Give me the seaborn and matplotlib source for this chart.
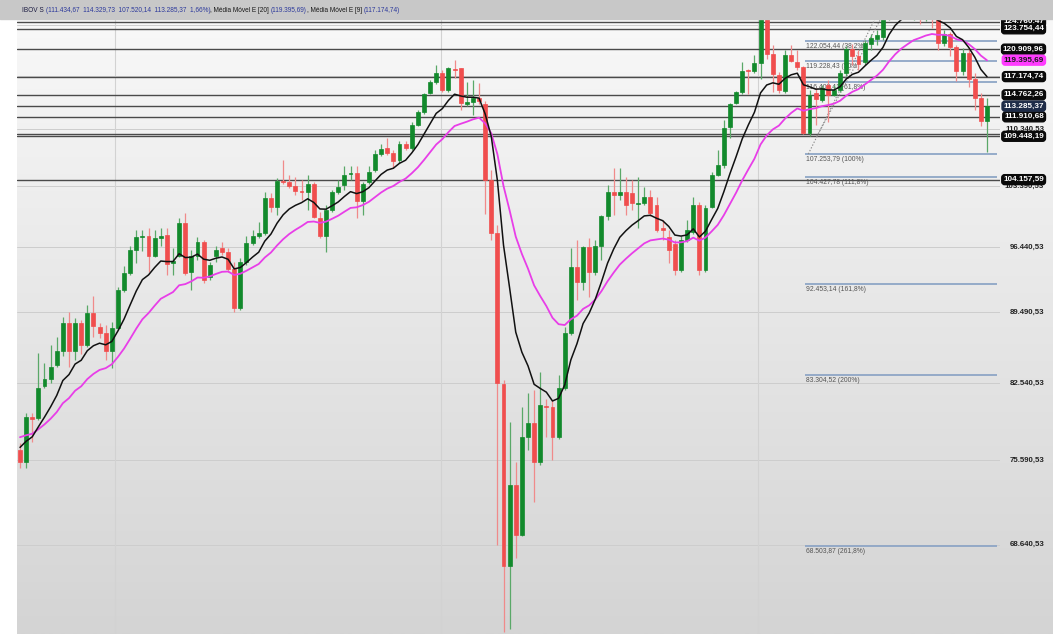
import matplotlib
matplotlib.use("Agg")
import numpy as np
import matplotlib.pyplot as plt
import matplotlib.transforms as mtransforms
from matplotlib.colors import LinearSegmentedColormap
import seaborn as sns

# ---------------- data (weekly IBOV candles) ----------------
opens = [76500, 75400, 79400, 79300, 82300, 82900, 84300, 85600, 88400, 85600,
         88400, 86200, 89400, 88000, 87400, 85600, 87900, 91800, 93600, 96100,
         97500, 97700, 95400, 97400, 97800, 94700, 95500, 99100, 93700, 95400,
         97000, 93200, 95400, 96300, 95900, 94100, 89900, 94800, 96900, 97700,
         98000, 102000, 101000, 104000, 103900, 103400, 102800, 102700, 103700, 99700,
         97700, 100600, 102700, 103500, 104800, 105000, 101600, 103900, 105300, 107200,
         108000, 107400, 106500, 108500, 108000, 110900, 112500, 115000, 116400, 117600,
         115400, 118200, 118300, 113600, 113800, 114400, 113600, 104100, 98000, 82500,
         67000, 73500, 69400, 77600, 78900, 75400, 80400, 80300, 77600, 82100,
         87400, 94300, 92700, 96400, 93700, 96600, 99900, 102700, 102400, 102700,
         102600, 101300, 101400, 102100, 101200, 98600, 97500, 96800, 93900, 97200,
         98100, 101200, 93900, 100900, 104700, 105900, 110600, 113700, 115100, 118100,
         117900, 119000, 125100, 120200, 117400, 115200, 120100, 119200, 118500, 109900,
         115000, 114100, 116000, 114800, 115400, 117600, 120900, 120000, 119100, 121600,
         122300, 122600, 125600, 130100, 129400, 128400, 127300, 127600, 125400, 126000,
         125100, 121800, 123000, 121200, 117900, 120400, 116900, 114300, 111434.67]
highs = [77100, 79800, 79800, 85400, 84500, 86200, 87000, 89000, 89500, 88900,
         88700, 90300, 91200, 88400, 88200, 88500, 92100, 94400, 96500, 98300,
         98300, 98600, 98300, 98600, 98600, 96300, 99700, 100300, 96100, 97500,
         97200, 94800, 96600, 97000, 96300, 94800, 95200, 97700, 98300, 99200,
         102700, 102600, 104400, 106500, 104700, 104500, 104100, 104700, 103900, 100400,
         101200, 102900, 104100, 105800, 105800, 105800, 103900, 105800, 107800, 108500,
         109200, 107700, 108800, 108900, 111200, 112800, 115000, 116700, 118700, 118100,
         118500, 119400, 118400, 116500, 116700, 116300, 113900, 105300, 98900, 82800,
         79000, 75400, 80300, 81600, 81900, 83600, 81100, 81000, 83300, 88000,
         96300, 97200, 96600, 97400, 97200, 100000, 103500, 105500, 105500, 104500,
         104100, 104500, 103300, 102900, 102100, 99500, 98300, 97200, 97700, 99500,
         102100, 101500, 101200, 105100, 107800, 111500, 113700, 115300, 119200, 118200,
         120100, 125300, 125500, 121500, 117800, 120800, 121500, 120800, 118600, 115400,
         115700, 116000, 116700, 116000, 118100, 121300, 121600, 120800, 122200, 123000,
         123600, 126000, 130500, 131200, 130600, 129400, 128200, 128000, 127000, 126500,
         125600, 123600, 123300, 121500, 121000, 121100, 117600, 115000, 114329.73]
lows = [74900, 74900, 77200, 79100, 82100, 82600, 84100, 85100, 84100, 84800,
        85300, 86000, 87000, 86900, 84800, 84000, 87700, 91600, 93400, 94700,
        96000, 93700, 95300, 96500, 93400, 93400, 95300, 93400, 91800, 95000,
        92600, 92900, 94800, 95600, 93700, 89500, 89700, 94500, 96700, 97400,
        97800, 100400, 100000, 103700, 103200, 102300, 101800, 100600, 99700, 97400,
        95900, 100400, 102500, 102900, 104100, 99700, 100000, 103700, 105100, 107000,
        107100, 105600, 106200, 107700, 107800, 110700, 112300, 114900, 116200, 115100,
        115100, 117000, 112800, 113300, 112200, 113600, 100100, 97200, 68600, 62100,
        62300, 67600, 69300, 76500, 72100, 75200, 77600, 75600, 77400, 81900,
        87200, 90800, 91800, 91100, 93400, 95000, 99500, 100000, 101800, 100000,
        100600, 98600, 101200, 99900, 98100, 97200, 94700, 93400, 93700, 97000,
        97900, 93400, 93700, 100800, 104600, 105600, 109200, 113500, 114900, 114900,
        117600, 116900, 119500, 115100, 115000, 115000, 119200, 118100, 109700, 109500,
        110900, 113800, 111200, 114600, 115100, 117300, 118700, 118100, 118700, 120800,
        121500, 122200, 125000, 128300, 127400, 125800, 125000, 124400, 124800, 123900,
        120800, 121400, 119900, 116600, 117400, 115800, 112800, 110700, 107520.14]
closes = [75400, 79400, 79200, 82100, 82900, 84100, 85600, 88400, 85600, 88400,
          86200, 89400, 88100, 87400, 85600, 87900, 91800, 93600, 96100, 97500,
          97700, 95400, 97400, 97700, 94600, 94900, 99100, 93600, 95500, 97000,
          92900, 94500, 96100, 95900, 94100, 89900, 94800, 96900, 97700, 98000,
          102000, 101000, 104000, 103900, 103400, 102800, 102700, 103700, 99800, 97700,
          100600, 102700, 103300, 104700, 105000, 101600, 103600, 105100, 107200, 107900,
          107400, 106400, 108500, 108000, 110900, 112500, 114900, 116400, 117600, 115400,
          118300, 118100, 113700, 113800, 114400, 113900, 104100, 98000, 82600, 67000,
          73500, 69400, 77600, 78900, 75400, 80500, 80300, 77600, 82100, 87400,
          94300, 92700, 96400, 93700, 96600, 99900, 102700, 102400, 102700, 101200,
          101400, 101400, 102100, 100300, 98300, 98300, 96100, 93900, 97200, 98300,
          101200, 93900, 100800, 104700, 105900, 110500, 113500, 115100, 117900, 117900,
          119000, 125100, 120200, 117500, 115400, 120100, 119300, 118500, 109900, 114800,
          114200, 115700, 114800, 115400, 117600, 120900, 120000, 118900, 121800, 122400,
          122900, 125600, 130100, 129400, 128400, 127300, 127600, 125400, 126000, 125100,
          121800, 123000, 121200, 117900, 120400, 116900, 114400, 111434.67, 113285.37]

ema9_seed, ema20_seed = 76700, 77600          # moving-average values at the first candle
ema9_last, ema20_last = 117174.74, 119395.69  # values printed on the chart

year_starts = [15.5, 68.8, 120.6]              # candle positions of the year grid lines
tick_values = [61690.53, 68640.53, 75590.53, 82540.53, 89490.53,
               96440.53, 103390.53, 110340.53, 117290.53, 124240.53]
levels = [124760.47, 123754.44, 120909.96, 117174.74, 114762.26,
          113285.37, 111910.68, 109731.00, 109448.19, 104157.59]
level_tags = [124760.47, 123754.44, 120909.96, 117174.74, 114762.26,
              111910.68, 109448.19, 104157.59]
fib_pct = ["38,2%", "50%", "61,8%", "100%", "111,8%", "161,8%", "200%", "261,8%"]
fib_vals = [122054.44, 119228.43, 116402.41, 107253.79, 104427.78, 92453.14, 83304.52, 68503.87]
fib_span = (128.3, 159.6)
fib_trend = ([128.8, 143.0], [107253.79, 131203.07])
fib_trend2 = ([130.2, 144.3], [109448.19, 131203.07])

# ---------------- helpers ----------------
def br(v):
    s = f"{v:,.2f}"
    return s.replace(",", "_").replace(".", ",").replace("_", ".")

def ema(values, span, seed):
    a = 2.0 / (span + 1)
    out = [seed]
    for v in values[1:]:
        out.append(out[-1] + a * (v - out[-1]))
    return np.array(out)

O = np.array(opens, float); Hh = np.array(highs, float)
L = np.array(lows, float); C = np.array(closes, float)
idx = np.arange(len(C))
e9 = ema(C, 9, ema9_seed)
e20 = ema(C, 20, ema20_seed)

# ---------------- figure ----------------
sns.set_theme(style="white")
plt.rcParams['font.family'] = ['Liberation Sans', 'DejaVu Sans']

W, H = 1053, 634
fig = plt.figure(figsize=(W / 100, H / 100), dpi=100)
fig.patch.set_facecolor("white")

def px_rect(x0, y0, x1, y1):
    return [x0 / W, 1 - y1 / H, (x1 - x0) / W, (y1 - y0) / H]

bg = fig.add_axes(px_rect(17, 20, W, H))
grad = np.linspace(0, 1, 256).reshape(-1, 1)
bg.imshow(grad, aspect="auto", origin="upper", extent=[0, 1, 0, 1],
          cmap=LinearSegmentedColormap.from_list("bg", ["#f8f8f8", "#d4d4d4"]))
bg.axis("off")
bg.set_zorder(0)

# header band drawn above the plot so that tags reaching the top are hidden under it
fig.add_artist(plt.Rectangle((0, 1 - 19 / H), 1, 19 / H, transform=fig.transFigure,
                             color="#c8c8c8", zorder=5))

ax = fig.add_axes(px_rect(17, 20, 1000, H))
ax.set_zorder(1)
ax.patch.set_alpha(0)
ax.set_yscale("log")
ax.set_xlim(-0.49, 160.12)
ax.set_ylim(61970, 125006)
for s in ax.spines.values():
    s.set_visible(False)
ax.set_xticks([]); ax.set_yticks([])
ax.yaxis.set_minor_locator(matplotlib.ticker.NullLocator())

for t in tick_values:
    ax.axhline(t, color="#cdcdcd", lw=0.7, zorder=1)
for x in year_starts:
    ax.axvline(x, color="#d2d2d2", lw=0.8, zorder=1)
for lv in levels:
    ax.axhline(lv, color="#4a4a4a", lw=1.0, zorder=2)

# fibonacci tool
ax.hlines(fib_vals, fib_span[0], fib_span[1], color="#8ea6c6", lw=1.3, zorder=2)
for v, p in zip(fib_vals, fib_pct):
    ax.text(fib_span[0] + 0.15, v * 0.998, f"{br(v)} ({p})", fontsize=4.9,
            color="#555555", ha="left", va="top", zorder=2)
ax.plot(*fib_trend, ls=(0, (1.2, 1.6)), color="#8a8a8a", lw=0.8, zorder=3)
ax.plot(*fib_trend2, ls=(0, (1.2, 1.6)), color="#8a8a8a", lw=0.8, zorder=3)

# candles
green, red = "#128a2c", "#f04e4e"
up = C >= O
cols = np.where(up, green, red)
wick_cols = np.where(up, "#5aa868", "#f08a8a")
ax.vlines(idx, L, Hh, colors=wick_cols, lw=0.9, zorder=3)
lo_b = np.minimum(O, C); hi_b = np.maximum(O, C)
ax.bar(idx, hi_b - lo_b, bottom=lo_b, width=0.64, color=cols, edgecolor=cols,
       linewidth=0.5, zorder=4)

# moving averages
sns.lineplot(x=idx, y=e20, color="#e83ee8", lw=1.3, ax=ax, zorder=5)
sns.lineplot(x=idx, y=e9, color="#111111", lw=1.1, ax=ax, zorder=6)
ax.set_xlabel(""); ax.set_ylabel("")

# right-hand labels
trans = mtransforms.blended_transform_factory(ax.transAxes, ax.transData)
xlab = (1044 - 17) / 983
for t in tick_values:
    ax.text(xlab, t, br(t), transform=trans, ha="right", va="center", fontsize=5.7,
            fontweight="bold", color="#222222", clip_on=False, zorder=7)

def tag(v, fc, tc):
    ax.text(xlab, v, br(v), transform=trans, ha="right", va="center", fontsize=5.9,
            fontweight="bold", color=tc, clip_on=False, zorder=8,
            bbox=dict(boxstyle="round,pad=0.18,rounding_size=0.35", fc=fc, ec=fc))

for v in level_tags:
    tag(v, "#0a0a0a", "white")
tag(ema20_last, "#ff3cff", "#1a1a1a")
tag(C[-1], "#1e2c48", "white")

# header
pct = (C[-1] / C[-2] - 1) * 100
pct_s = f"{pct:.2f}".replace(".", ",")
pieces = [("IBOV S ", "#1a1a40"),
          (f"({br(O[-1])}  {br(Hh[-1])}  {br(L[-1])}  {br(C[-1])}  {pct_s}%)", "#2d3a9c"),
          (", Média Móvel E [20] ", "#1a1a1a"), (f"({br(ema20_last)})", "#2d3a9c"),
          (", Média Móvel E [9] ", "#1a1a1a"), (f"({br(ema9_last)})", "#2d3a9c")]
fig.canvas.draw()
r = fig.canvas.get_renderer()
x = 22 / W
for txt, col in pieces:
    t = fig.text(x, 1 - 11 / H, txt, fontsize=4.7, color=col, ha="left", va="center",
                 zorder=6)
    bb = t.get_window_extent(r)
    x = bb.x1 / W

fig.savefig("out.png", dpi=100, facecolor="white")
